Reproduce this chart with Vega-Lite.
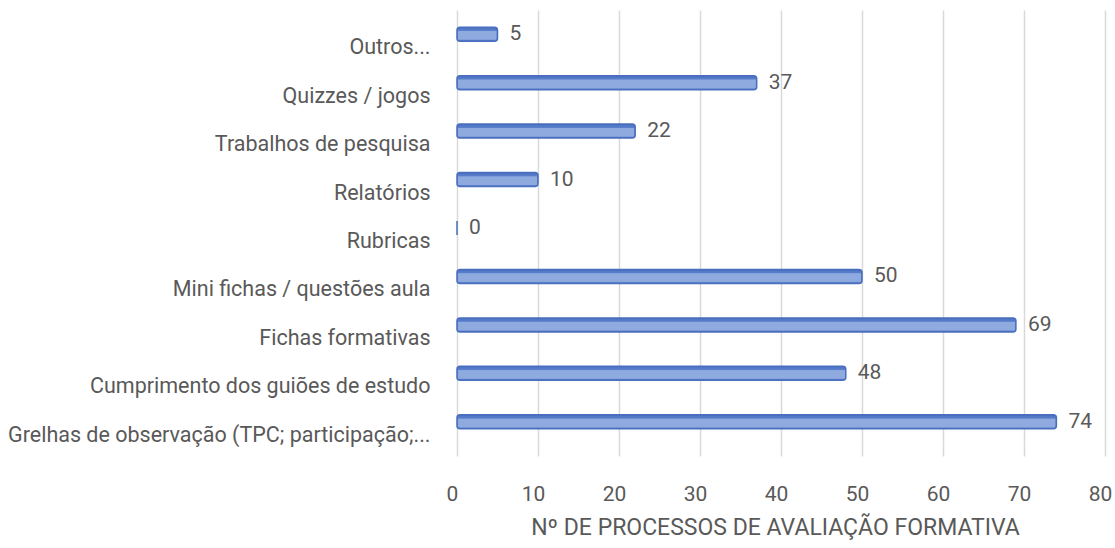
{
  "$schema": "https://vega.github.io/schema/vega-lite/v6.json",
  "autosize": {"type": "none"},
  "padding": {"left": 457, "top": 10, "right": 10, "bottom": 102},
  "width": 648,
  "height": 436,
  "background": "white",
  "config": {
    "view": {"stroke": null},
    "font": "Roboto"
  },
  "data": {
    "values": [
      {"categoria": "Outros...", "valor": 5},
      {"categoria": "Quizzes / jogos", "valor": 37},
      {"categoria": "Trabalhos de pesquisa", "valor": 22},
      {"categoria": "Relatórios", "valor": 10},
      {"categoria": "Rubricas", "valor": 0},
      {"categoria": "Mini fichas / questões aula", "valor": 50},
      {"categoria": "Fichas formativas", "valor": 69},
      {"categoria": "Cumprimento dos guiões de estudo", "valor": 48},
      {"categoria": "Grelhas de observação (TPC; participação;...", "valor": 74}
    ]
  },
  "encoding": {
    "y": {
      "field": "categoria",
      "type": "nominal",
      "sort": null,
      "axis": {
        "title": null,
        "domain": false,
        "ticks": false,
        "labelPadding": 27,
        "labelOffset": 14,
        "labelFontSize": 21.5,
        "labelColor": "#595959",
        "labelFont": "Roboto",
        "labelLimit": 460
      }
    },
    "x": {
      "field": "valor",
      "type": "quantitative",
      "scale": {"domain": [0, 80], "nice": false},
      "axis": {
        "values": [0, 10, 20, 30, 40, 50, 60, 70, 80],
        "title": "Nº DE PROCESSOS DE AVALIAÇÃO FORMATIVA",
        "titleFontSize": 23,
        "titleFontWeight": "normal",
        "titleColor": "#595959",
        "titleFont": "Roboto",
        "titlePadding": 12,
        "titleX": 318,
        "domain": false,
        "grid": true,
        "gridColor": "#d9d9d9",
        "gridWidth": 1.5,
        "tickColor": "#d9d9d9",
        "tickWidth": 1.5,
        "tickSize": 10,
        "labelFlush": false,
        "labelOffset": -5,
        "labelPadding": 27,
        "labelFontSize": 21,
        "labelColor": "#595959",
        "labelFont": "Roboto"
      }
    }
  },
  "layer": [
    {
      "mark": {
        "type": "bar",
        "height": 14,
        "cornerRadius": 3,
        "stroke": "#4a6fbf",
        "strokeWidth": 1.5,
        "fill": {
          "gradient": "linear",
          "x1": 0, "y1": 0, "x2": 0, "y2": 1,
          "stops": [
            {"offset": 0, "color": "#4a70c0"},
            {"offset": 0.25, "color": "#5a7fcc"},
            {"offset": 0.3, "color": "#8eaadf"},
            {"offset": 0.85, "color": "#8eaadf"},
            {"offset": 1, "color": "#4a70c0"}
          ]
        }
      }
    },
    {
      "mark": {
        "type": "text",
        "align": "left",
        "baseline": "middle",
        "dx": 12,
        "fontSize": 21,
        "color": "#595959",
        "font": "Roboto"
      },
      "encoding": {"text": {"field": "valor", "type": "quantitative"}}
    }
  ]
}
